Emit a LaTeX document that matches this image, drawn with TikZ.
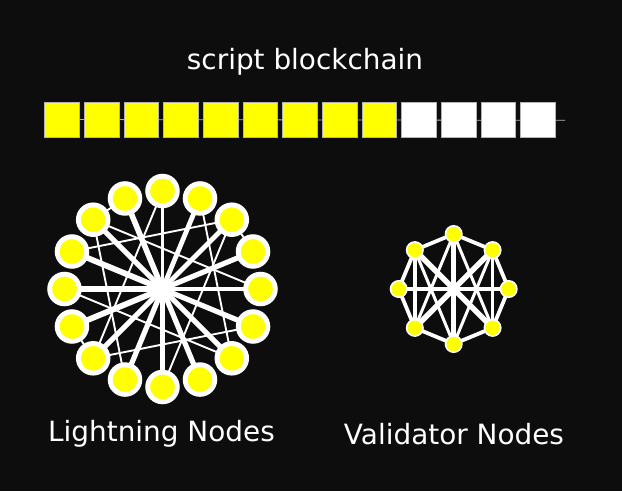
\documentclass[tikz,border=0pt]{standalone}
\usepackage{fontspec}
\setmainfont{DejaVu Sans}
\usetikzlibrary{backgrounds,calc}
\definecolor{bgdark}{HTML}{0D0D0D}
\definecolor{blockedge}{HTML}{B4B4B4}
\definecolor{nodeyellow}{RGB}{255,255,0}
\tikzset{
  x=1pt,y=-1pt,
  block/.style={draw=blockedge,line width=0.8pt,minimum size=34.8pt,inner sep=0pt,outer sep=0pt},
  yblock/.style={block,fill=nodeyellow},
  wblock/.style={block,fill=white},
  bignode/.style={circle,draw=white,fill=nodeyellow,line width=4.9pt,minimum size=29.6pt,inner sep=0pt,outer sep=0pt},
  smallnode/.style={circle,draw=white,fill=nodeyellow,line width=1.6pt,minimum size=16.4pt,inner sep=0pt,outer sep=0pt},
  lab/.style={text=white,font=\fontsize{27.9}{32}\selectfont,inner sep=0pt,anchor=base},
  link/.style={draw=white,line cap=round},
}
\begin{document}
\begin{tikzpicture}
\useasboundingbox (0,0) rectangle (622,491);
% blocks
\coordinate (chainend) at (565,120.3);
\foreach \i in {0,...,8}{
  \node[yblock] (b\i) at ({62+39.67*\i},119.5) {};
}
\foreach \i in {9,...,12}{
  \node[wblock] (b\i) at ({62+39.67*\i},119.5) {};
}
% lightning nodes
\coordinate (LC) at (162.5,289);
\foreach \i in {0,...,15}{
  \node[bignode] (L\i) at ($(LC)+({98*cos(22.5*\i)},{-98*sin(22.5*\i)})$) {};
}
% validator nodes
\coordinate (RC) at (453.7,289);
\foreach \i in {0,...,7}{
  \node[smallnode] (R\i) at ($(RC)+({55*cos(45*\i)},{-55*sin(45*\i)})$) {};
}
\begin{scope}[on background layer]
  \fill[bgdark] (0,0) rectangle (622,491);
  \draw[blockedge,line width=0.8pt] (b0.center) -- (chainend);
  \foreach \i/\w in {0/3.4,1/5.2,2/4.8,3/4.8,4/3.6,5/5.6,6/5.2,7/5.8,8/6,9/5.8,10/5.2,11/5.2,12/5.4,13/5.2,14/5.2,15/5.2}{
    \draw[link,line width=\w pt] (L\i.center) -- (LC);
  }
  \foreach \a/\b in {4/10,6/11,7/2,6/0,3/14,2/12,8/14,10/15,6/5,2/1,10/9}{
    \draw[link,line width=1.9pt] (L\a.center) -- (L\b.center);
  }
  \foreach \a/\b in {0/1,1/2,2/3,3/4,4/5,5/6,6/7,7/0}{
    \draw[link,line width=3.8pt] (R\a.center) -- (R\b.center);
  }
  \foreach \a/\b/\w in {0/4/3.4,2/6/5.4,1/5/5.4,3/7/5.4,3/5/3.4,1/7/3.4,3/6/3,1/6/3,5/2/3,7/2/3}{
    \draw[link,line width=\w pt] (R\a.center) -- (R\b.center);
  }
\end{scope}
% labels
\node[lab] (t1) at (305,69) {script blockchain};
\node[lab] (t2) at (161.5,441) {Lightning Nodes};
\node[lab] (t3) at (454,444) {Validator Nodes};
\end{tikzpicture}
\end{document}
